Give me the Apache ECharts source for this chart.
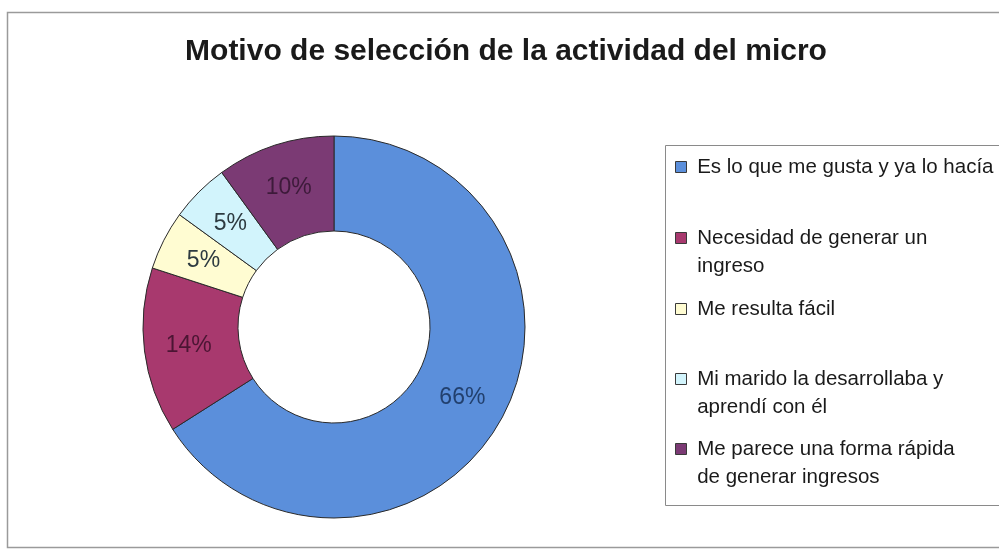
<!DOCTYPE html>
<html>
<head>
<meta charset="utf-8">
<script src="https://cdn.jsdelivr.net/npm/echarts@6/dist/echarts.min.js"></script>
<style>
  html, body { margin: 0; padding: 0; background: #fff; }
  #chart { width: 999px; height: 559px; }
</style>
</head>
<body>
<div id="chart"></div>
<script>
// Data
const titleText = 'Motivo de selección de la actividad del micro';
const categories = [
  'Es lo que me gusta y ya lo hacía',
  'Necesidad de generar un ingreso',
  'Me resulta fácil',
  'Mi marido la desarrollaba y aprendí con él',
  'Me parece una forma rápida de generar ingresos'
];
// Legend text as wrapped in the legend box
const legendLines = [
  ['Es lo que me gusta y ya lo hacía'],
  ['Necesidad de generar un', 'ingreso'],
  ['Me resulta fácil'],
  ['Mi marido la desarrollaba y', 'aprendí con él'],
  ['Me parece una forma rápida', 'de generar ingresos']
];
const values = [66, 14, 5, 5, 10];

// Styling
const sliceColors = ['#5b8fdb', '#a8396e', '#fffcd2', '#d2f4fc', '#7b3a74'];
const labelColors = ['#22406e', '#4b1533', '#2d3a40', '#2d3a40', '#3d1a3a'];
const FONT = 'Arial, "Liberation Sans", sans-serif';
const LINE_H = 28;
const ICON = 11;
const legendLeft = 675;
const legendFirstLine = [167, 238, 309, 379, 449];

const chart = echarts.init(document.getElementById('chart'), null, { renderer: 'canvas' });

// A square swatch that sits level with the first text line of a wrapped entry:
// the trailing move-to stretches the icon's box downward without drawing anything.
function swatchFor(lines) {
  if (lines === 1) return { icon: 'rect', h: ICON };
  const s = ICON / 10;
  const h = 2 * ((LINE_H / 2) + ICON / 2); // text centre sits LINE_H/2 below the swatch centre
  const H = h / s;
  return { icon: 'path://M0,0h10v10h-10zM0,' + H.toFixed(2), h: h };
}

const legends = categories.map((name, i) => {
  const sw = swatchFor(legendLines[i].length);
  return {
    orient: 'vertical',
    left: legendLeft,
    top: legendFirstLine[i] - LINE_H / 2,
    padding: 0,
    itemGap: 0,
    itemWidth: ICON,
    itemHeight: sw.h,
    icon: sw.icon,
    selectedMode: false,
    data: [name],
    itemStyle: { borderColor: '#3a3a3a', borderWidth: 1 },
    // a leading space widens the gap between swatch and text
    formatter: () => legendLines[i].map(l => ' ' + l).join('\n'),
    textStyle: {
      fontFamily: FONT,
      fontSize: 20.5,
      color: '#1a1a1a',
      lineHeight: LINE_H
    }
  };
});

chart.setOption({
  backgroundColor: '#ffffff',
  animation: false,
  title: {
    text: titleText,
    left: 506,
    textAlign: 'center',
    top: 37,
    padding: 0,
    textStyle: { fontFamily: FONT, fontSize: 30, fontWeight: 'bold', color: '#1a1a1a' }
  },
  legend: legends,
  graphic: [
    {
      type: 'rect',
      shape: { x: 7.5, y: 12.5, width: 1000, height: 535 },
      style: { fill: 'none', stroke: '#9a9a9a', lineWidth: 1.5 },
      z: -1
    },
    {
      type: 'rect',
      shape: { x: 665.5, y: 145.5, width: 340, height: 360 },
      style: { fill: 'none', stroke: '#8a8a8a', lineWidth: 1 },
      z: -1
    }
  ],
  series: [{
    type: 'pie',
    center: [334, 327],
    radius: [96, 191],
    startAngle: 90,
    clockwise: true,
    avoidLabelOverlap: false,
    label: {
      show: true,
      position: 'inside',
      formatter: '{c}%',
      fontFamily: FONT,
      fontSize: 23
    },
    labelLine: { show: false },
    emphasis: { disabled: true },
    itemStyle: { borderColor: '#2a2a2a', borderWidth: 1 },
    data: categories.map((name, i) => ({
      name: name,
      value: values[i],
      itemStyle: { color: sliceColors[i] },
      label: { color: labelColors[i] }
    }))
  }]
});
</script>
</body>
</html>
